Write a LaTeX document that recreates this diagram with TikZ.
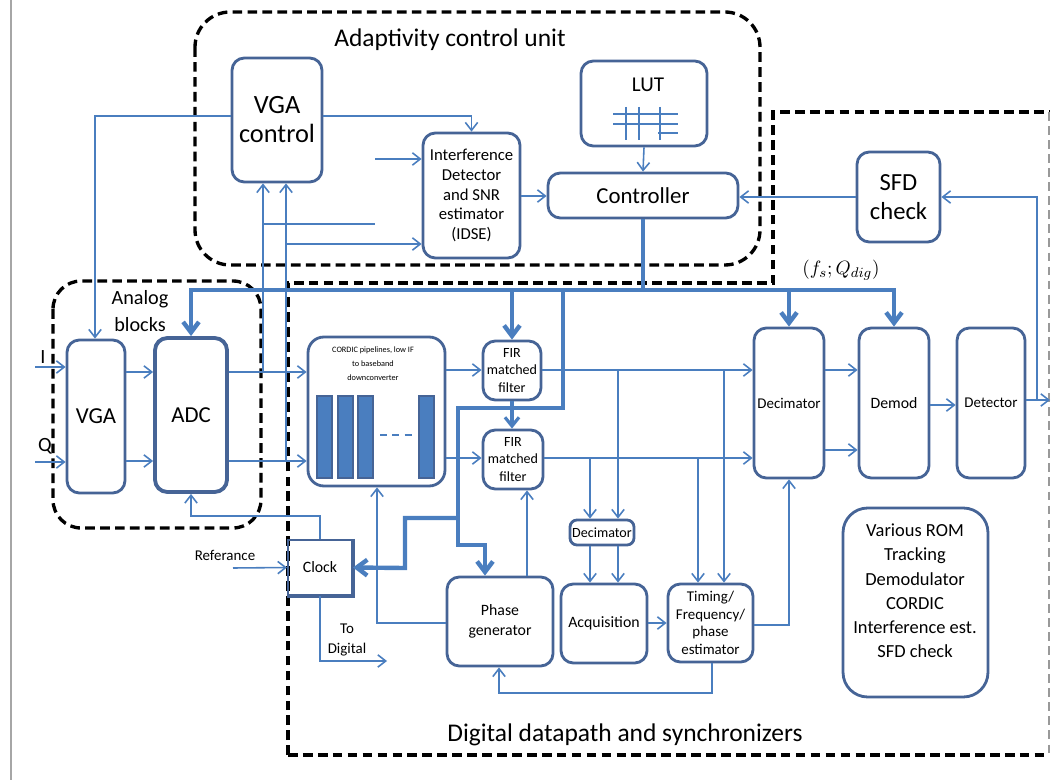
\documentclass[tikz,border=0pt]{standalone}
\usepackage{fontspec}
\setmainfont{Carlito}
\usetikzlibrary{arrows.meta}
\definecolor{boxblue}{RGB}{70,100,150}
\definecolor{wireblue}{RGB}{74,126,191}
\newcommand{\fsz}[2]{\fontsize{#1}{#2}\selectfont}

\begin{document}
\begin{tikzpicture}[x=0.02cm,y=-0.02cm,
  blk/.style={draw=boxblue,line width=1.6pt,rounded corners=7pt,align=center,inner sep=1pt},
  wire/.style={draw=wireblue,line width=0.9pt,>={Straight Barb[length=4.5pt,width=7pt]}},
  midwire/.style={draw=wireblue,line width=1.8pt,>={Straight Barb[length=5pt,width=8pt]}},
  bus/.style={draw=wireblue,line width=2.5pt,>={Straight Barb[length=6pt,width=9pt]}},
  group/.style={draw=black,line width=1.9pt,dash pattern=on 5.5pt off 3pt}]
\useasboundingbox (0,0) rectangle (1051,780);
\path[draw=gray!70,line width=1.2pt] (11,0) -- (11,780);

% group frames
\path[group,rounded corners=20pt] (195,12) rectangle (760,265);
\path[group,rounded corners=16pt] (53,281) rectangle (261,528);
\path[group] (288,755) -- (288,283) -- (773,283) -- (773,112) -- (1049,112);
\path[group] (288,755) -- (1049,755);
\path[draw=gray!80,line width=0.8pt,dash pattern=on 5pt off 3pt] (1049,112) -- (1049,755);

\node[font=\fsz{14.5}{16}] (acutitle) at (450,40) {Adaptivity control unit};
\node[font=\fsz{11.5}{15},align=center] (abtitle) at (140,311) {Analog\\blocks};
\node[font=\fsz{14.5}{16}] (ddtitle) at (625,735) {Digital datapath and synchronizers};

% adaptivity control unit
\node[blk,minimum width=1.8cm,minimum height=2.48cm,font=\fsz{15}{16.5}] (vgactl) at (277,120) {VGA\\control};
\node[blk,minimum width=1.94cm,minimum height=2.5cm,font=\fsz{9.5}{11.3}] (idse) at (471.5,195.5) {Interference\\Detector\\and SNR\\estimator\\(IDSE)};
\node[blk,minimum width=2.52cm,minimum height=1.7cm] (lut) at (644,103.5) {};
\node[font=\fsz{12}{14}] (luttxt) at (648,85) {LUT};
\foreach \gy in {114,124}
  \path[draw=wireblue,line width=1pt] (613,\gy) -- (678,\gy);
\path[draw=wireblue,line width=1pt] (658,133) -- (678,133);
\foreach \gx in {626,639,660}
  \path[draw=wireblue,line width=1pt] (\gx,107) -- (\gx,140);
\node[blk,minimum width=3.8cm,minimum height=0.9cm,font=\fsz{13}{15}] (ctrl) at (643,195.5) {Controller};
\node[blk,minimum width=1.66cm,minimum height=1.8cm,font=\fsz{14}{16.5}] (sfd) at (898.5,197) {SFD\\check};

% analog blocks
\node[blk,minimum width=1.16cm,minimum height=3.06cm,font=\fsz{13}{15}] (vga) at (96,416.5) {VGA};
\node[blk,line width=2.2pt,minimum width=1.44cm,minimum height=3.08cm,font=\fsz{13}{15}] (adc) at (191,415) {ADC};

% digital datapath
\node[blk,rounded corners=9pt,minimum width=2.74cm,minimum height=2.98cm] (cordic) at (376.5,411.5) {};
\node[font=\fsz{4.7}{8},align=center] (cordictxt) at (373,364) {CORDIC pipelines, low IF\\to baseband\\downconverter};
\foreach \bx in {317,338,358,419}
  \path[draw=boxblue,fill=wireblue,line width=0.8pt] (\bx,396) rectangle ++(15,82);
\path[draw=wireblue,line width=1pt,dash pattern=on 4pt off 3pt] (380,435) -- (413,435);
\node[blk,minimum width=1.16cm,minimum height=1.18cm,font=\fsz{8}{10}] (fir1) at (512,370.5) {FIR\\matched\\filter};
\node[blk,minimum width=1.2cm,minimum height=1.18cm,font=\fsz{8}{10}] (fir2) at (513,459.5) {FIR\\matched\\filter};
\node[blk,minimum width=1.4cm,minimum height=3cm,font=\fsz{8.5}{10}] (dec) at (789,403) {Decimator};
\node[blk,minimum width=1.4cm,minimum height=3cm,font=\fsz{9}{10}] (demod) at (894,403) {Demod};
\node[blk,minimum width=1.36cm,minimum height=3cm,font=\fsz{8.5}{10}] (det) at (991,403) {Detector};
\node[blk,rounded corners=4pt,minimum width=1.28cm,minimum height=0.5cm,font=\fsz{8}{9}] (sdec) at (602,532.5) {Decimator};
\node[draw=boxblue,line width=1.2pt,minimum width=1.28cm,minimum height=1.1cm,font=\fsz{9}{11}] (clock) at (320,567.5) {Clock};
\path[draw=boxblue,line width=2.6pt] (clock.north east) -- (clock.south east) -- (clock.south west);
\node[blk,minimum width=2.12cm,minimum height=1.78cm,font=\fsz{9}{11.5}] (phase) at (500,621.5) {Phase\\generator};
\node[blk,minimum width=1.72cm,minimum height=1.58cm,font=\fsz{9}{11}] (acq) at (604,623.5) {Acquisition};
\node[blk,minimum width=1.7cm,minimum height=1.56cm,font=\fsz{8.5}{10}] (tim) at (710.5,623) {Timing/\\Frequency/\\phase\\estimator};
\node[blk,rounded corners=14pt,minimum width=2.9cm,minimum height=3.78cm] (rom) at (915.5,602.5) {};
\node[font=\fsz{10.5}{13.8},align=center] (romtxt) at (915,591) {Various ROM\\Tracking\\Demodulator\\CORDIC\\Interference est.\\SFD check};

% free ends and labels
\coordinate (iin) at (35,367);
\coordinate (qin) at (35,462);
\coordinate (refin) at (233,568);
\coordinate (todig) at (387,661);
\coordinate (dout) at (1050,400);
\node[font=\fsz{11.5}{13}] (ilbl) at (43,357) {I};
\node[font=\fsz{11.5}{13}] (qlbl) at (45,446) {Q};
\node[font=\fsz{8.5}{10}] (reflbl) at (225,555) {Referance};
\node[font=\fsz{8.5}{11},align=center] (todiglbl) at (347,640) {To\\Digital};
\node[font=\fsz{11}{13}] (qdig) at (841,270) {$(f_s; Q_{dig})$};

% analog path
\path[wire,->] (iin) -- (vga.west |- iin);
\path[wire,->] (qin) -- (vga.west |- qin);
\path[wire,->] (vga.east |- 0,372) -- (adc.west |- 0,372);
\path[wire,->] (vga.east |- 0,461) -- (adc.west |- 0,461);
\path[wire,->] (adc.east |- 0,372) -- (cordic.west |- 0,372);
\path[wire,->] (adc.east |- 0,461) -- (cordic.west |- 0,461);

% feedback into adaptivity control
\path[wire,->] (263,372) -- (vgactl.south -| 263,0);
\path[wire,->] (286,461) -- (vgactl.south -| 286,0);
\path[wire] (263,224) -- (375,224);
\path[wire,->] (375,159) -- (idse.west |- 0,159);
\path[wire,->] (286,244) -- (idse.west |- 0,244);
\path[wire,->] (vgactl.west |- 0,116) -- (95,116) -- (vga.north -| 95,0);
\path[wire,->] (vgactl.east |- 0,116) -| (idse.north);
\path[wire,->] (idse.east |- 0,196) -- (ctrl.west |- 0,196);
\path[wire,->] (lut.south) -- (ctrl.north);
\path[wire,->] (sfd.west) -- (sfd.west -| ctrl.east);
\path[wire,->] (det.east |- dout) -- (1037,400) |- (sfd.east);
\path[wire,->] (1037,400) -- (dout);

% control bus
\path[bus] (ctrl.south) -- (643,290);
\path[bus,->] (643,290) -| (dec.north);
\path[bus,->] (643,290) -| (demod.north);
\path[bus,->] (643,290) -| (adc.north);
\path[bus,->] (fir1.north |- 0,290) -- (fir1.north);
\path[bus,->] (563,290) -- (563,408) -- (458,408) -- (458,545) -- (485,545) -- (phase.north -| 485,0);
\path[bus,->] (458,518) -- (405,518) -- (405,568) -- (clock.east);
\path[midwire,->] (fir1.south) -- (fir1.south |- fir2.north);

% datapath
\path[wire,->] (cordic.east |- 0,370) -- (fir1.west |- 0,370);
\path[wire,->] (cordic.east |- 0,458) -- (fir2.west |- 0,458);
\path[wire,->] (fir1.east |- 0,370) -- (dec.west |- 0,370);
\path[wire,->] (fir2.east |- 0,458) -- (dec.west |- 0,458);
\path[wire,->] (618,370) -- (sdec.north -| 618,0);
\path[wire,->] (590,458) -- (sdec.north -| 590,0);
\path[wire,->] (724,370) -- (tim.north -| 724,0);
\path[wire,->] (698,458) -- (tim.north -| 698,0);
\path[wire,->] (sdec.south -| 590,0) -- (acq.north -| 590,0);
\path[wire,->] (sdec.south -| 618,0) -- (acq.north -| 618,0);
\path[wire,->] (acq.east |- 0,623) -- (tim.west |- 0,623);
\path[wire,->] (tim.east |- 0,625) -| (dec.south);
\path[wire,->] (tim.south -| 712,0) -- (712,693) -- (499,693) -- (phase.south -| 499,0);
\path[wire,->] (phase.west |- 0,623) -- (377,623) -- (cordic.south -| 377,0);
\path[wire,->] (phase.north -| 527,0) -- (fir2.south -| 527,0);
\path[wire,->] (dec.east |- 0,370) -- (demod.west |- 0,370);
\path[wire,->] (dec.east |- 0,450) -- (demod.west |- 0,450);
\path[wire,->] (demod.east |- 0,405) -- (det.west |- 0,405);

% clock
\path[wire,->] (clock.north) -- (clock.north |- 0,516) -| (adc.south);
\path[wire,->] (refin) -- (clock.west);
\path[wire,->] (clock.south) -- (clock.south |- todig) -- (todig);
\end{tikzpicture}
\end{document}
